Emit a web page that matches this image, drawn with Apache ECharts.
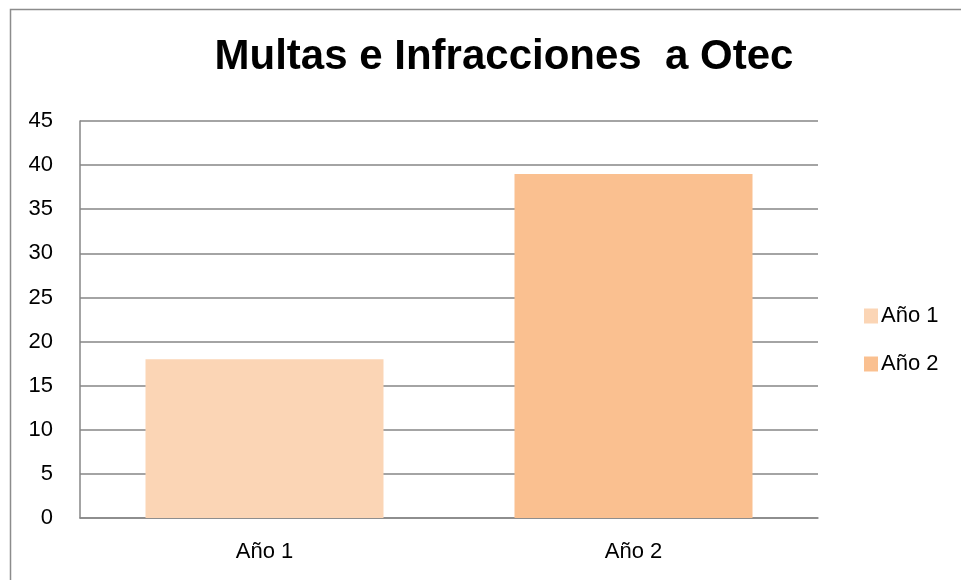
<!DOCTYPE html>
<html>
<head>
<meta charset="utf-8">
<script src="https://cdn.jsdelivr.net/npm/echarts@6/dist/echarts.min.js"></script>
<style>
  html, body { margin: 0; padding: 0; background: #fff; }
  #main { width: 961px; height: 580px; }
</style>
</head>
<body>
<div id="main"></div>
<script>
var categories = ['Año 1', 'Año 2'];
var values = [18, 39];
var barColors = ['#FBD5B5', '#FAC090'];
var yTicks = { min: 0, max: 45, interval: 5 };

var chart = echarts.init(document.getElementById('main'));

// one series per category so the legend shows both years
var series = categories.map(function (name, i) {
    var data = categories.map(function (c, j) { return j === i ? values[i] : '-'; });
    return {
        name: name,
        type: 'bar',
        stack: 'years',
        barWidth: '64.5%',
        data: data,
        itemStyle: { color: barColors[i] }
    };
});

var option = {
    backgroundColor: '#fff',
    animation: false,
    textStyle: { fontFamily: 'Liberation Sans, Arial, sans-serif' },
    title: {
        text: 'Multas e Infracciones  a Otec',
        left: 499,
        textAlign: 'center',
        top: 31,
        textStyle: { fontSize: 42, fontWeight: 'bold', color: '#000' }
    },
    legend: {
        orient: 'vertical',
        left: 859,
        top: 300,
        itemWidth: 14,
        itemHeight: 15,
        itemGap: 26,
        icon: 'rect',
        textStyle: { fontSize: 22, color: '#000', padding: [0, 0, 0, -2] },
        data: categories
    },
    grid: { left: 80, right: 143, top: 121, bottom: 62 },
    xAxis: {
        type: 'category',
        data: categories,
        axisLine: { show: true, lineStyle: { color: '#868686', width: 1.5 } },
        axisTick: { show: false },
        axisLabel: { fontSize: 22, color: '#000', margin: 23 }
    },
    yAxis: {
        type: 'value',
        min: yTicks.min,
        max: yTicks.max,
        interval: yTicks.interval,
        axisLine: { show: true, lineStyle: { color: '#868686', width: 1.5 } },
        axisTick: { show: false },
        axisLabel: { fontSize: 22, color: '#000', margin: 27 },
        splitLine: { show: true, lineStyle: { color: '#868686', width: 1.5 } }
    },
    graphic: [{
        type: 'rect',
        shape: { x: 10.5, y: 9.5, width: 1000, height: 1000 },
        style: { fill: 'none', stroke: '#8c8c8c', lineWidth: 1.5 },
        silent: true
    }],
    series: series
};

chart.setOption(option);
</script>
</body>
</html>
